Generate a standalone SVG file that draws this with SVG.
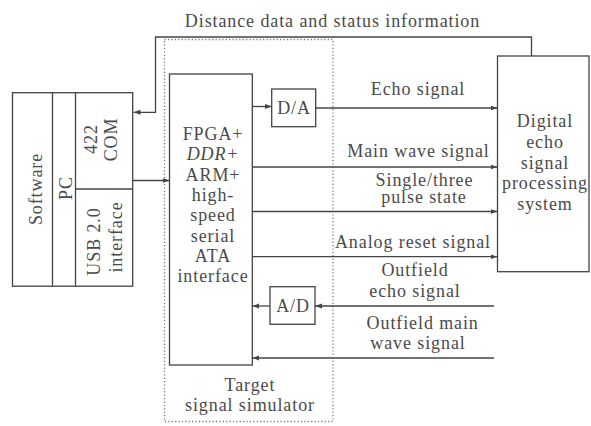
<svg xmlns="http://www.w3.org/2000/svg" width="591" height="426" viewBox="0 0 591 426">
<defs>
<marker id="arr" markerWidth="8" markerHeight="6" refX="7" refY="3" orient="auto" markerUnits="userSpaceOnUse">
<path d="M0,0.5 L7,3 L0,5.5 Z" fill="#444"/>
</marker>
<style>
.t{font-family:"Liberation Serif","Times New Roman",serif;font-size:18px;fill:#4a4a4a;letter-spacing:0.9px;text-anchor:middle}
.b{fill:none;stroke:#444;stroke-width:1.3}
.l{fill:none;stroke:#444;stroke-width:1.3}
.a{marker-end:url(#arr)}
.dot{fill:none;stroke:#777;stroke-width:1.3;stroke-dasharray:1.2 2.2}
</style>
</defs>
<rect width="591" height="426" fill="#fff"/>

<g id="simulator-boundary">
<rect class="dot" x="164.5" y="39.5" width="168.5" height="382"/>
<text class="t" x="250" y="390.7">Target</text>
<text class="t" x="250" y="410.7">signal simulator</text>
</g>

<g id="pc">
<rect class="b" x="12.5" y="92.7" width="120.2" height="193.5"/>
<line class="b" x1="52.5" y1="92.7" x2="52.5" y2="286.2"/>
<line class="b" x1="75.5" y1="92.7" x2="75.5" y2="286.2"/>
<line class="b" x1="75.5" y1="189" x2="132.7" y2="189"/>
<text class="t" transform="translate(41.5,189) rotate(-90)">Software</text>
<text class="t" transform="translate(72,188) rotate(-90)">PC</text>
<text class="t" transform="translate(96.5,139) rotate(-90)">422</text>
<text class="t" transform="translate(116.5,139.5) rotate(-90)">COM</text>
<text class="t" transform="translate(99.8,241.5) rotate(-90)">USB 2.0</text>
<text class="t" transform="translate(121.5,237) rotate(-90)">interface</text>
</g>

<g id="fpga">
<rect class="b" x="169.5" y="74" width="82.8" height="291"/>
<text class="t" x="213" y="140">FPGA+</text>
<text class="t" x="213" y="160.3" font-style="italic">DDR+</text>
<text class="t" x="213" y="180.6">ARM+</text>
<text class="t" x="213" y="200.9">high-</text>
<text class="t" x="213" y="221.2">speed</text>
<text class="t" x="213" y="241.5">serial</text>
<text class="t" x="213" y="261.8">ATA</text>
<text class="t" x="213" y="282.1">interface</text>
</g>

<g id="da">
<rect class="b" x="271.7" y="89" width="44" height="37.7"/>
<text class="t" x="294" y="114">D/A</text>
</g>

<g id="ad">
<rect class="b" x="270" y="286.7" width="45" height="37.6"/>
<text class="t" x="293" y="312">A/D</text>
</g>

<g id="desp">
<rect class="b" x="497.5" y="56" width="91.5" height="215.7"/>
<text class="t" x="545" y="127.3">Digital</text>
<text class="t" x="545" y="148">echo</text>
<text class="t" x="545" y="168.5">signal</text>
<text class="t" x="545" y="189">processing</text>
<text class="t" x="545" y="209.5">system</text>
</g>

<g id="connectors">
<polyline class="l a" points="531.5,56 531.5,37 155.5,37 155.5,112.3 133.5,112.3"/>
<line class="l a" x1="132.7" y1="180.5" x2="169.5" y2="180.5"/>
<line class="l a" x1="252.3" y1="106.5" x2="271.7" y2="106.5"/>
<line class="l a" x1="315.7" y1="108" x2="497.5" y2="108"/>
<line class="l a" x1="252.3" y1="167" x2="497.5" y2="167"/>
<line class="l a" x1="252.3" y1="211.5" x2="497.5" y2="211.5"/>
<line class="l a" x1="252.3" y1="256.7" x2="497.5" y2="256.7"/>
<line class="l a" x1="494" y1="306" x2="315" y2="306"/>
<line class="l a" x1="270" y1="306" x2="252.3" y2="306"/>
<line class="l a" x1="494" y1="358" x2="252.3" y2="358"/>
</g>

<g id="labels">
<text class="t" x="332.5" y="26.7">Distance data and status information</text>
<text class="t" x="418" y="95">Echo signal</text>
<text class="t" x="418.5" y="157.3">Main wave signal</text>
<text class="t" x="424.5" y="185.5">Single/three</text>
<text class="t" x="424" y="203.3">pulse state</text>
<text class="t" x="413" y="248.3">Analog reset signal</text>
<text class="t" x="415" y="276">Outfield</text>
<text class="t" x="415" y="296.7">echo signal</text>
<text class="t" x="422.7" y="329">Outfield main</text>
<text class="t" x="418" y="349">wave signal</text>
</g>
</svg>
